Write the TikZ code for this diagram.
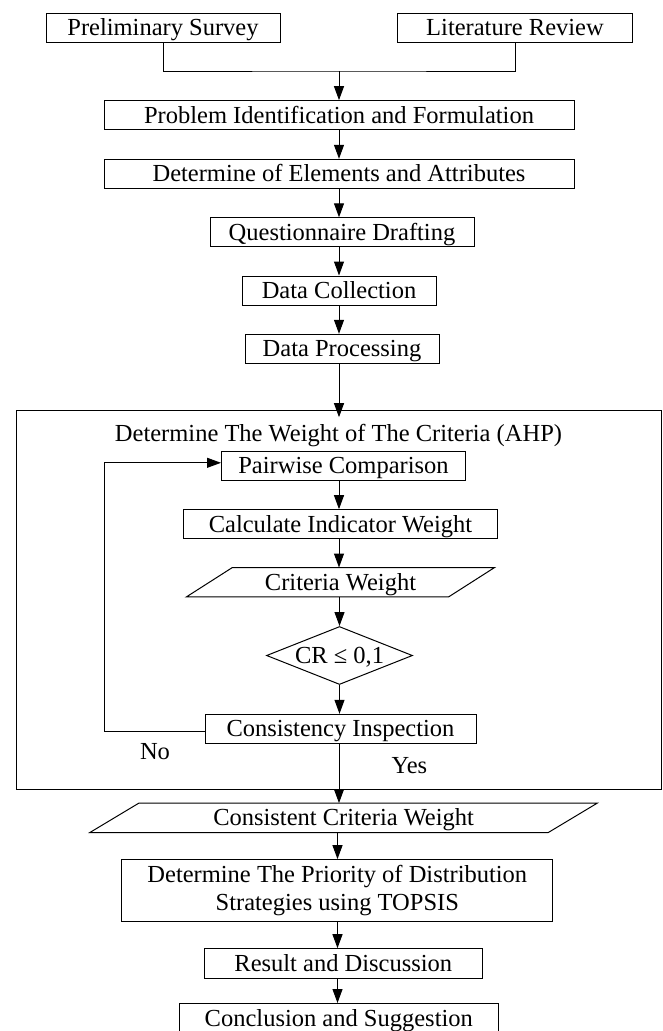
\documentclass[tikz,border=0pt]{standalone}
\usepackage{fontspec}
\setmainfont{Liberation Serif}
\usetikzlibrary{arrows.meta,shapes.geometric}
\begin{document}
\begin{tikzpicture}[x=1pt,y=-1pt,
  every node/.style={font=\fontsize{24.5pt}{28pt}\selectfont},
  one/.style={text height=16pt, text depth=0pt},
  box/.style={draw=black, line width=1pt, rectangle, inner sep=0pt, align=center},
  ln/.style={draw=black, line width=1pt},
  arr/.style={ln, -{Triangle[length=14pt,width=10pt]}},
  plain/.style={inner sep=0pt, minimum height=29pt, one}
]
\useasboundingbox (0,0) rectangle (662,1031);
\fill[white] (0,0) rectangle (662,1031);

% outer AHP frame
\node[draw=black, line width=1pt, minimum width=645pt, minimum height=378.6pt, inner sep=0pt] (ahp) at (338.5,600) {};

\coordinate (ax) at (339,0);
\coordinate (bx) at (337.5,0);
\coordinate (lp) at (104.4,600);
\coordinate (j) at (339,71);

\node[box, one, minimum width=234pt, minimum height=29pt] (ps) at (163,27.8) {Preliminary Survey};
\node[box, one, minimum width=235pt, minimum height=29pt] (lr) at (515,27.8) {Literature Review};
\node[box, one, minimum width=470pt, minimum height=29.3pt] (pi) at (339,115.3) {Problem Identification and Formulation};
\node[box, one, minimum width=470pt, minimum height=29pt] (de) at (339,173.8) {Determine of Elements and Attributes};
\node[box, one, minimum width=264pt, minimum height=29pt] (qd) at (342,232.3) {Questionnaire Drafting};
\node[box, one, minimum width=194pt, minimum height=29pt] (dc) at (339,290.5) {Data Collection};
\node[box, one, minimum width=194pt, minimum height=29pt] (dp) at (342,348.8) {Data Processing};

\node[one] (title) at (338.5,433.3) {Determine The Weight of The Criteria (AHP)};
\node[box, one, minimum width=244pt, minimum height=29pt] (pw) at (343.5,465.8) {Pairwise Comparison};
\node[box, one, minimum width=314.4pt, minimum height=29pt] (calc) at (340.5,524.2) {Calculate Indicator Weight};

\node[plain, minimum width=261.8pt] (cw) at (340.5,582.2) {Criteria Weight};
\draw[ln] ([xshift=23pt]cw.north west) -- ([xshift=23pt]cw.north east) -- ([xshift=-23pt]cw.south east) -- ([xshift=-23pt]cw.south west) -- cycle;

\node[draw=black, line width=1pt, diamond, aspect=2.5, inner sep=0pt, minimum width=146pt, minimum height=58pt, one] (cr) at (339.5,655.5) {CR ≤ 0,1};

\node[box, one, minimum width=271pt, minimum height=29pt] (ci) at (340.5,728.8) {Consistency Inspection};
\node[one] (no) at (155,751.7) {No};
\node[one] (yes) at (409.4,765) {Yes};

\node[plain, minimum width=458pt] (ccw) at (343.6,817.8) {Consistent Criteria Weight};
\draw[ln] ([xshift=24.5pt]ccw.north west) -- ([xshift=24.5pt]ccw.north east) -- ([xshift=-24.5pt]ccw.south east) -- ([xshift=-24.5pt]ccw.south west) -- cycle;

\node[box, minimum width=431.3pt, minimum height=61.7pt] (tp) at (337.3,890.5) {Determine The Priority of Distribution\\Strategies using TOPSIS};
\node[box, one, minimum width=278pt, minimum height=29.6pt] (rd) at (343.3,963.5) {Result and Discussion};
\node[box, one, minimum width=319pt, minimum height=30pt] (cs) at (338.8,1018.5) {Conclusion and Suggestion};

% connectors
\draw[ln] (ps.south) |- (j) -| (lr.south);
\draw[arr] (j) -- (j |- pi.north);
\draw[arr] (pi.south -| ax) -- (de.north -| ax);
\draw[arr] (de.south -| ax) -- (qd.north -| ax);
\draw[arr] (qd.south -| ax) -- (dc.north -| ax);
\draw[arr] (dc.south -| ax) -- (dp.north -| ax);
\path (ahp.north -| ax) ++(0,7) coordinate (ent);
\draw[arr] (dp.south -| ax) -- (ent);
\draw[arr] (pw.south -| ax) -- (calc.north -| ax);
\draw[arr] (calc.south -| ax) -- (cw.north -| ax);
\draw[arr] (cw.south -| cr.north) -- (cr.north);
\draw[arr] (cr.south) -- (ci.north -| cr.south);
\path (ci.west) ++(0,3) coordinate (l1);
\path (pw.west) ++(0,-3) coordinate (l2);
\draw[arr] (l1) -- (l1 -| lp) |- (l2);
\draw[arr] (ci.south -| ax) -- (ccw.north -| ax);
\draw[arr] (ccw.south -| bx) -- (tp.north -| bx);
\draw[arr] (tp.south -| bx) -- (rd.north -| bx);
\draw[arr] (rd.south -| bx) -- (cs.north -| bx);
\end{tikzpicture}
\end{document}
